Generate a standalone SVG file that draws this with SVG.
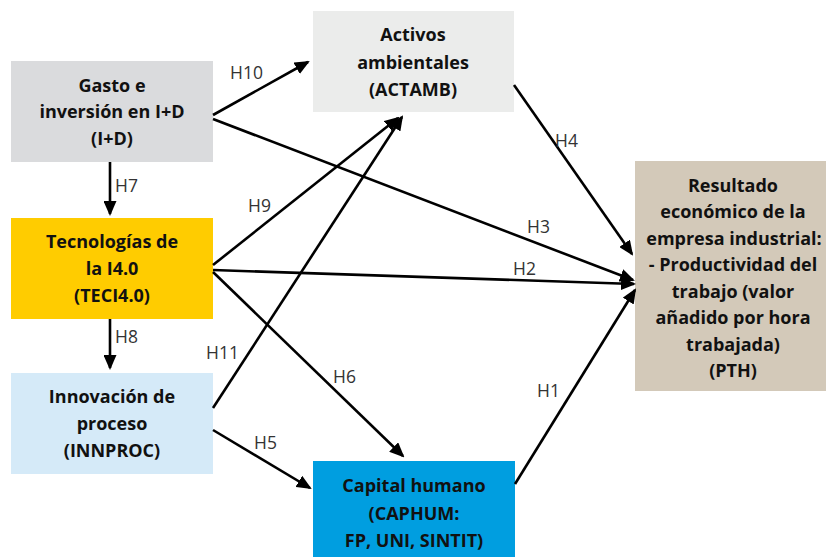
<svg xmlns="http://www.w3.org/2000/svg" width="826" height="557" viewBox="0 0 826 557">
<defs>
<marker id="ah" markerUnits="userSpaceOnUse" markerWidth="15" markerHeight="13" refX="13" refY="6.5" orient="auto" viewBox="0 0 15 13">
<path d="M0,0 L15,6.5 L0,13 z" fill="#000"/>
</marker>
</defs>
<style>
.box text{font-family:"Open Sans","Noto Sans",sans-serif;font-weight:bold;font-size:18px;fill:#111;text-anchor:middle}
.lbl{font-family:"Open Sans","Noto Sans",sans-serif;font-size:17.5px;fill:#333}
.c line{stroke:#000;stroke-width:2.6;fill:none;marker-end:url(#ah)}
</style>
<rect width="826" height="557" fill="#fff"/>
<g id="node-ID" class="box">
<rect x="11" y="61" width="202" height="101" fill="#dadbdd"/>
<text x="112" y="92">Gasto e</text>
<text x="112" y="118">inversión en I+D</text>
<text x="112" y="145">(I+D)</text>
</g>
<g id="node-TECI40" class="box">
<rect x="11" y="218" width="202" height="101" fill="#ffcc00"/>
<text x="112" y="248">Tecnologías de</text>
<text x="112" y="275">la I4.0</text>
<text x="112" y="302">(TECI4.0)</text>
</g>
<g id="node-INNPROC" class="box">
<rect x="11" y="373" width="202" height="101" fill="#d5eaf8"/>
<text x="112" y="403">Innovación de</text>
<text x="112" y="430">proceso</text>
<text x="112" y="457">(INNPROC)</text>
</g>
<g id="node-ACTAMB" class="box">
<rect x="313" y="11" width="201" height="101" fill="#ebeceb"/>
<text x="413" y="41">Activos</text>
<text x="413" y="69">ambientales</text>
<text x="413" y="96">(ACTAMB)</text>
</g>
<g id="node-CAPHUM" class="box">
<rect x="313" y="461" width="202" height="96" fill="#009ee0"/>
<text x="414" y="492">Capital humano</text>
<text x="414" y="520">(CAPHUM:</text>
<text x="414" y="547">FP, UNI, SINTIT)</text>
</g>
<g id="node-PTH" class="box">
<rect x="635" y="161" width="191" height="230" fill="#d3c9b9"/>
<text x="733" y="192">Resultado</text>
<text x="733" y="218">económico de la</text>
<text x="734" y="245">empresa industrial:</text>
<text x="733" y="271">- Productividad del</text>
<text x="733" y="298">trabajo (valor</text>
<text x="733" y="324">añadido por hora</text>
<text x="733" y="351">trabajada)</text>
<text x="733" y="377">(PTH)</text>
</g>
<g id="connectors" class="c">
<line x1="110" y1="162" x2="110" y2="214"/>
<line x1="110" y1="319" x2="110" y2="368"/>
<line x1="213" y1="115" x2="308" y2="62"/>
<line x1="213" y1="119" x2="633" y2="280"/>
<line x1="213" y1="265" x2="398" y2="118"/>
<line x1="213" y1="270" x2="634" y2="284"/>
<line x1="213" y1="272" x2="403" y2="456"/>
<line x1="213" y1="408" x2="402" y2="117"/>
<line x1="213" y1="430" x2="310" y2="488"/>
<line x1="514" y1="85" x2="632" y2="254"/>
<line x1="515" y1="484" x2="635" y2="290"/>
</g>
<g id="labels" class="lbl">
<text x="230" y="79">H10</text>
<text x="115" y="192">H7</text>
<text x="248" y="212">H9</text>
<text x="115" y="343">H8</text>
<text x="206" y="359">H11</text>
<text x="333" y="383">H6</text>
<text x="254" y="449">H5</text>
<text x="555" y="147">H4</text>
<text x="527" y="233">H3</text>
<text x="513" y="275">H2</text>
<text x="537" y="397">H1</text>
</g>
</svg>
